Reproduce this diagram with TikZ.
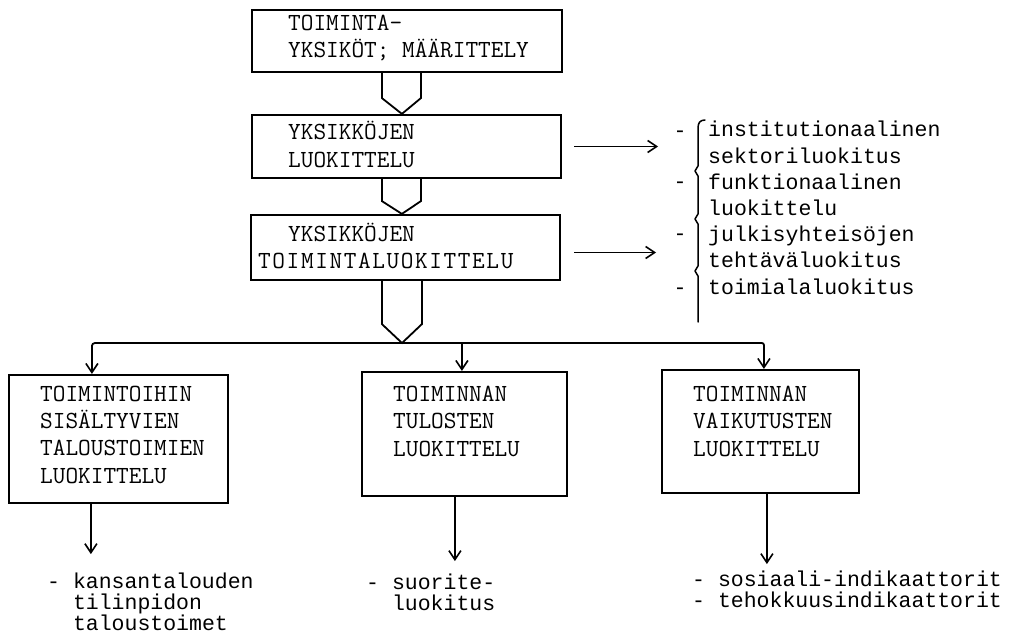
\documentclass[tikz,border=0pt]{standalone}
\usepackage{fontspec}
\newfontfamily\tw{Liberation Mono}
\usetikzlibrary{arrows.meta,calc}
\newcommand\lk{\kern1.6pt }
\begin{document}
\begin{tikzpicture}[x=1pt,y=-1pt,
  box/.style={draw, line width=2.2pt, inner sep=0pt},
  conn/.style={line width=1.8pt},
  arr/.style={conn, -{Straight Barb[length=9pt,width=12pt,line width=1.6pt]}},
  txt/.style={font=\ttfamily\fontsize{24.6}{27.3}\selectfont, inner sep=0pt, align=left, anchor=base west},
  rtxt/.style={font=\tw\fontsize{21.5}{26.2}\selectfont, inner sep=0pt, align=left, anchor=base west},
  ltxt/.style={font=\tw\fontsize{21.5}{20.8}\selectfont, inner sep=0pt, align=left, anchor=base west},
]
\useasboundingbox (0,0) rectangle (1010,642);
% boxes
\node[box, minimum width=310pt, minimum height=62pt] (b1) at (407,41) {};
\node[box, minimum width=309pt, minimum height=63pt] (b2) at (406.5,146.5) {};
\node[box, minimum width=309pt, minimum height=65pt] (b3) at (405.5,247.5) {};
\node[box, minimum width=219pt, minimum height=128pt] (b4) at (118.5,439) {};
\node[box, minimum width=205pt, minimum height=124pt] (b5) at (464.5,434) {};
\node[box, minimum width=197pt, minimum height=123pt] (b6) at (760.5,431.5) {};
% box texts (anchor = baseline of last line)
\node[txt] (t1) at (288,58) {TOIMINTA-\\YKSIKÖT; MÄÄRITTELY};
\node[txt] (t2) at (288,167) {YKSIKKÖJEN\\LUOKITTELU};
\node[txt] (t3a) at (288,241) {YKSIKKÖJEN};
\node[txt] (t3b) at (258,268) {T\lk O\lk I\lk M\lk I\lk N\lk T\lk A\lk L\lk U\lk O\lk K\lk I\lk T\lk T\lk E\lk L\lk U};
\node[txt] (t4) at (40,483) {TOIMINTOIHIN\\SISÄLTYVIEN\\TALOUSTOIMIEN\\LUOKITTELU};
\node[txt] (t5) at (393,456) {TOIMINNAN\\TULOSTEN\\LUOKITTELU};
\node[txt] (t6) at (693,456) {TOIMINNAN\\VAIKUTUSTEN\\LUOKITTELU};
% chevrons
\draw[conn] ($(b1.south west)+(131,0)$) -- ($(b1.south west)+(131,25)$) -- ($(b2.north west)+(151,0)$) -- ($(b1.south west)+(170,25)$) -- ($(b1.south west)+(170,0)$);
\draw[conn] ($(b2.south west)+(131,0)$) -- ($(b2.south west)+(131,22)$) -- ($(b3.north west)+(152,0)$) -- ($(b2.south west)+(170,22)$) -- ($(b2.south west)+(170,0)$);
\coordinate (sp) at (402,343);
\draw[conn] ($(b3.south west)+(132,0)$) -- ($(b3.south west)+(132,43)$) -- (sp) -- ($(b3.south west)+(172,43)$) -- ($(b3.south west)+(172,0)$);
% branches
\draw[arr, rounded corners=3pt] (sp) -| ($(b4.north west)+(84,0)$);
\draw[arr, rounded corners=2pt] (sp) -| ($(b6.north west)+(103,0)$);
\coordinate (m5) at ($(b5.north west)+(101,0)$);
\draw[arr] (m5 |- sp) -- (m5);
% right list
\node[rtxt] (r1) at (708,294) {institutionaalinen\\sektoriluokitus\\funktionaalinen\\luokittelu\\julkisyhteisöjen\\tehtäväluokitus\\toimialaluokitus};
\node[rtxt, anchor=base] (d1) at (680,137) {-};
\node[rtxt, anchor=base] (d2) at (680,188) {-};
\node[rtxt, anchor=base] (d3) at (680,240) {-};
\node[rtxt, anchor=base] (d4) at (680,294) {-};
\draw[line width=1.5pt, line cap=round, line join=round]
  (705,120) .. controls (700,120) and (698,123) .. (698,128)
  -- (698,166) -- (695,171) -- (698,176) -- (698,214) -- (695,219) -- (698,224)
  -- (698,266) -- (695,271) -- (698,276) -- (698,322);
\coordinate (a1) at ($(b2.east)+(96,0)$);
\coordinate (a2) at ($(b3.east)+(95,5)$);
\draw[arr] ($(b2.east)+(12,0)$) -- (a1);
\draw[arr] ($(b3.east)+(13,5)$) -- (a2);
% bottom
\node[ltxt] (l1) at (47,630) {- kansantalouden\\\hphantom{- }tilinpidon\\\hphantom{- }taloustoimet};
\node[ltxt] (l2) at (366,610) {- suorite-\\\hphantom{- }luokitus};
\node[ltxt] (l3) at (692,607) {- sosiaali-indikaattorit\\- tehokkuusindikaattorit};
\coordinate (e4) at ($(b4.south west)+(83,50)$);
\coordinate (e5) at ($(b5.south west)+(94,64)$);
\coordinate (e6) at ($(b6.south west)+(106,70)$);
\draw[arr] (b4.south west -| e4) -- (e4);
\draw[arr] (b5.south west -| e5) -- (e5);
\draw[arr] (b6.south west -| e6) -- (e6);
\end{tikzpicture}
\end{document}
